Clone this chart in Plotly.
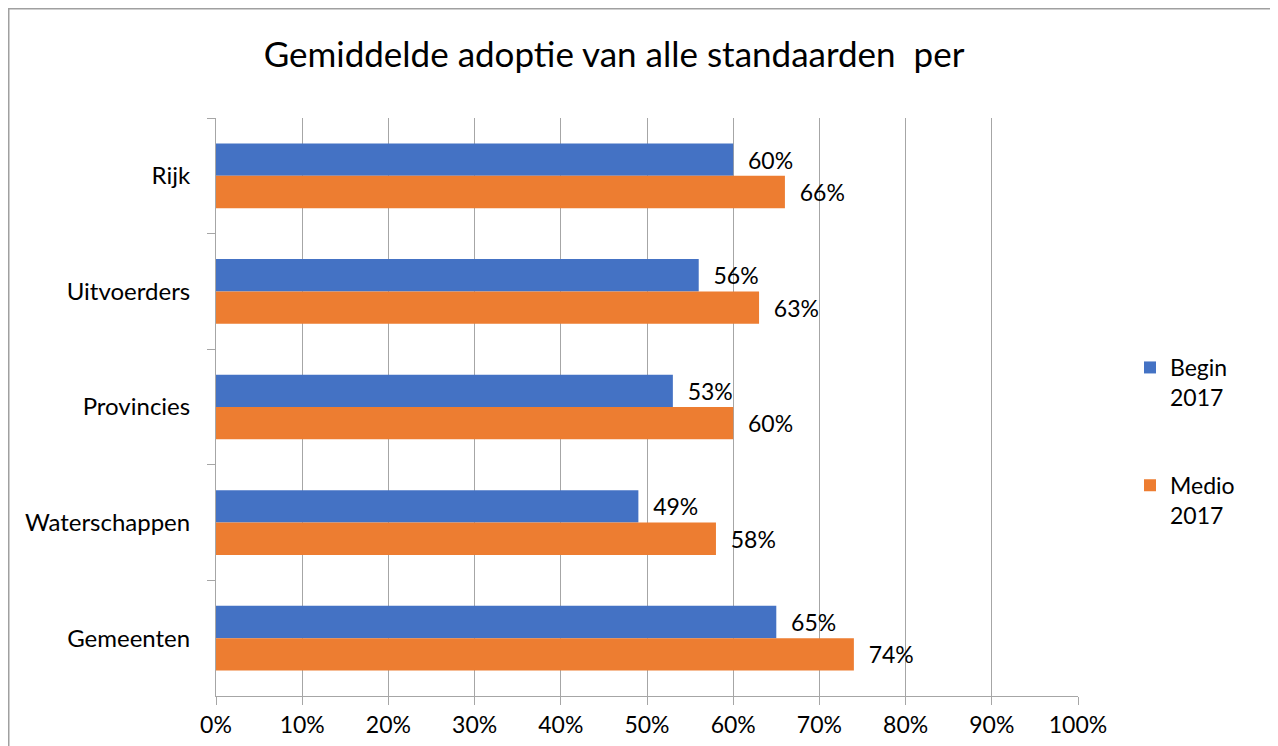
import plotly.graph_objects as go

categories = ["Rijk", "Uitvoerders", "Provincies", "Waterschappen", "Gemeenten"]
begin_2017 = [0.60, 0.56, 0.53, 0.49, 0.65]
medio_2017 = [0.66, 0.63, 0.60, 0.58, 0.74]
series_names = ["Begin<br>2017", "Medio<br>2017"]
x_ticks = [i / 10 for i in range(11)]
x_tick_labels = [f"{i * 10}%" for i in range(11)]

FONT = "Lato, 'Open Sans', sans-serif"
GRID = "#a6a6a6"
BLUE = "#4472c4"
ORANGE = "#ed7d31"

# page body adds an 8px offset, so figure coordinates = screen - 8
L, R, T, B = 208, 1070, 110, 688
PW, PH = R - L, B - T

fig = go.Figure()
for name, vals, col, grp in [(series_names[0], begin_2017, BLUE, "a"),
                             (series_names[1], medio_2017, ORANGE, "b")]:
    fig.add_trace(go.Bar(
        y=categories, x=vals, orientation="h", name=name, legendgroup=grp,
        marker=dict(color=col, line=dict(width=0)),
        texttemplate="\u00a0\u00a0%{x:.0%}", textposition="outside",
        textfont=dict(family=FONT, size=23, color="#000000"),
        cliponaxis=False,
    ))

fig.update_layout(
    width=1278, height=746,
    paper_bgcolor="white", plot_bgcolor="white",
    margin=dict(l=L, r=1278 - R, t=T, b=746 - B),
    barmode="group", bargap=0.44, bargroupgap=0,
    font=dict(family=FONT, size=23, color="#000000"),
    title=dict(text="Gemiddelde adoptie van alle standaarden  per",
               x=606 / 1278, xref="container", xanchor="center",
               y=1 - 47 / 746, yref="container", yanchor="middle",
               font=dict(family=FONT, size=35, color="#000000")),
    legend=dict(x=(1130 - 8 - L) / PW, y=(B - 338) / PH, xanchor="left", yanchor="top",
                valign="top", tracegroupgap=55, traceorder="grouped",
                font=dict(family=FONT, size=23, color="#000000")),
    xaxis=dict(range=[0, 1], tickvals=x_ticks, ticktext=x_tick_labels,
               showgrid=True, gridcolor=GRID, gridwidth=1,
               showline=True, linecolor=GRID, linewidth=1,
               ticks="outside", ticklen=8, tickcolor=GRID,
               zeroline=False, tickfont=dict(family=FONT, size=23)),
    yaxis=dict(autorange="reversed", showline=True, linecolor=GRID, linewidth=1,
               ticks="outside", ticklen=8, tickcolor=GRID, tickson="boundaries",
               showgrid=False, ticklabelstandoff=20,
               tickfont=dict(family=FONT, size=24)),
    shapes=[dict(type="rect", xref="paper", yref="paper",
                 x0=(0.75 - L) / PW, x1=(1267 - L) / PW,
                 y0=(B - 760) / PH, y1=(B - 0.75) / PH,
                 line=dict(color="#a0a0a0", width=1.5), fillcolor="rgba(0,0,0,0)",
                 layer="below")],
)

fig.write_html("out.html")
